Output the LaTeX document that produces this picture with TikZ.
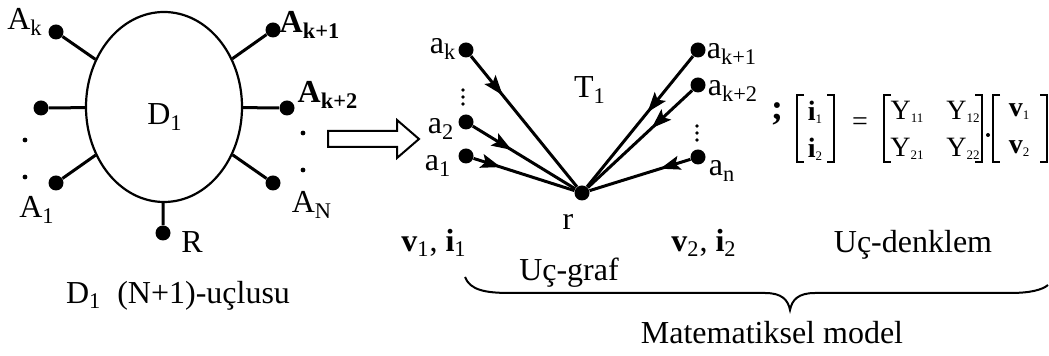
\documentclass[tikz,border=0pt]{standalone}
\usepackage{fontspec}
\setmainfont{Liberation Serif}
\usetikzlibrary{arrows.meta,decorations.markings,shapes.geometric}

\tikzset{
  term/.style={circle,fill=black,inner sep=0pt,minimum size=7.5pt},
  pt/.style={circle,fill=black,inner sep=0pt,minimum size=2.4pt},
  lbl/.style={inner sep=0pt,font=\fontsize{16}{19}\selectfont},
  mtx/.style={inner sep=0pt,font=\fontsize{14}{17}\selectfont},
  wire/.style={line width=1.5pt},
  flow/.style={line width=1.5pt,postaction={decorate},
    decoration={markings,mark=at position #1 with {\arrow{Stealth[length=10pt,width=7pt,inset=2pt]}}}},
  brk/.style={line width=0.8pt}
}
\newcommand{\lo}[1]{\textsubscript{#1}}
\newcommand{\ml}[1]{\raisebox{-1.5pt}{\fontsize{6.5}{7}\selectfont #1}}
\newcommand{\mbrack}[2]{%
  \draw[brk] (#1+7,95) -- (#1,95) -- (#1,162) -- (#1+7,162);
  \draw[brk] (#2-7,95) -- (#2,95) -- (#2,162) -- (#2-7,162);}

\begin{document}
\begin{tikzpicture}[x=0.5pt,y=-0.5pt]
  \useasboundingbox (0,0) rectangle (1049,356);

  % the (N+1)-terminal element
  \node[draw,ellipse,line width=1.1pt,minimum width=78pt,minimum height=95pt,inner sep=0pt] (D) at (164,107) {};
  \node[lbl] (Dname) at (165,117) {D\lo{1}};

  \node[term] (Ak) at (56,32) {};
  \node[term] (Ak1) at (273,30) {};
  \node[term] (Am) at (41,108) {};
  \node[term] (Ak2) at (287,108) {};
  \node[term] (A1) at (56,183) {};
  \node[term] (AN) at (273,183) {};
  \node[term] (R) at (163,233) {};

  \foreach \t in {Ak,Ak1,Am,Ak2,A1,AN,R}
    \draw[wire] (D) -- (\t);

  \node[lbl] (lAk) at (25,22) {A\lo{k}};
  \node[lbl] (lAk1) at (310,25) {\textbf{A\lo{k+1}}};
  \node[lbl] (lAk2) at (328,95) {\textbf{A\lo{k+2}}};
  \node[lbl] (lA1) at (37,210) {A\lo{1}};
  \node[lbl] (lAN) at (312,205) {A\lo{N}};
  \node[lbl] (lR) at (192,242) {R};
  \node[pt] (dl1) at (25,140) {};
  \node[pt] (dl2) at (25,177) {};
  \node[pt] (dr1) at (303,133) {};
  \node[pt] (dr2) at (303,170) {};
  \node[lbl] (title) at (178,296) {D\lo{1}\ \ (N+1)-uçlusu};

  % hollow arrow
  \draw[line width=1pt] (328,131) -- (397,131) -- (397,120) -- (419,139)
    -- (397,158) -- (397,147) -- (328,147) -- cycle;

  % terminal graph
  \node[term] (r) at (582,193) {};
  \node[term] (ak) at (466,50) {};
  \node[term] (a2) at (466,122) {};
  \node[term] (a1) at (466,156) {};
  \node[term] (ak1) at (698,50) {};
  \node[term] (ak2) at (698,85) {};
  \node[term] (an) at (698,157) {};

  \draw[flow=0.3] (ak) -- (r);
  \draw[flow=0.38] (a2) -- (r);
  \draw[flow=0.27] (a1) -- (r);
  \draw[flow=0.43] (ak1) -- (r);
  \draw[flow=0.39] (ak2) -- (r);
  \draw[flow=0.3] (an) -- (r);

  \foreach \y in {90,97,104} \fill (463,\y) circle (0.9pt);
  \foreach \y in {126,133,140} \fill (697,\y) circle (0.9pt);

  \node[lbl] (lak) at (443,49) {a\lo{k}};
  \node[lbl] (la2) at (441,129) {a\lo{2}};
  \node[lbl] (la1) at (438,166) {a\lo{1}};
  \node[lbl] (lak1) at (732,54) {a\lo{k+1}};
  \node[lbl] (lak2) at (733,91) {a\lo{k+2}};
  \node[lbl] (lan) at (722,171) {a\lo{n}};
  \node[lbl] (lr) at (568,222) {r};
  \node[lbl] (lT) at (590,90) {T\lo{1}};
  \node[lbl] (vi1) at (434,243) {\textbf{v}\lo{1}, \textbf{i}\lo{1}};
  \node[lbl] (vi2) at (704,243) {\textbf{v}\lo{2}, \textbf{i}\lo{2}};
  \node[lbl] (graf) at (569,273) {Uç-graf};

  % terminal equation
  \node[inner sep=0pt,font=\fontsize{18}{20}\selectfont\bfseries] (semi) at (777,114) {;};
  \mbrack{797}{834}
  \node[mtx] (i1) at (815,112) {\textbf{i}\ml{1}};
  \node[mtx] (i2) at (815,149) {\textbf{i}\ml{2}};
  \node[mtx] (eq) at (860,124) {=};
  \mbrack{884}{982}
  \node[mtx] (Y11) at (907,112) {Y\ml{11}};
  \node[mtx] (Y12) at (963,112) {Y\ml{12}};
  \node[mtx] (Y21) at (907,149) {Y\ml{21}};
  \node[mtx] (Y22) at (963,149) {Y\ml{22}};
  \fill (988,135) circle (1pt);
  \mbrack{993}{1047}
  \node[mtx] (v1) at (1019,112) {\textbf{v}\ml{1}};
  \node[mtx] (v2) at (1019,149) {\textbf{v}\ml{2}};
  \node[lbl] (denk) at (913,245) {Uç-denklem};

  % brace
  \draw[line width=1pt] (465,277) .. controls (470,290) and (485,293) .. (510,293)
    -- (765,293) .. controls (782,293) and (788,300) .. (790,310)
    .. controls (792,300) and (798,293) .. (815,293) -- (1010,293)
    .. controls (1030,293) and (1042,290) .. (1048,285);
  \node[lbl] (model) at (772,333) {Matematiksel model};
\end{tikzpicture}
\end{document}
